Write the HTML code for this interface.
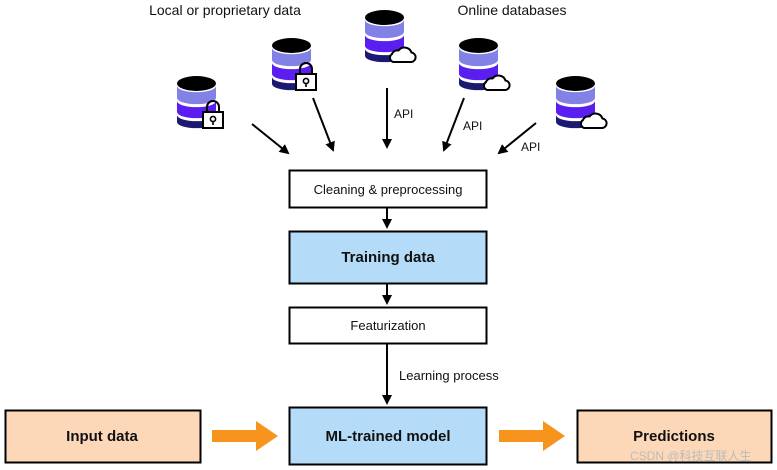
<!DOCTYPE html>
<html><head><meta charset="utf-8"><style>
html,body{margin:0;padding:0;background:#fff;}
svg{display:block;font-family:"Liberation Sans",sans-serif;}
</style></head><body>
<svg width="777" height="470" viewBox="0 0 777 470" xmlns="http://www.w3.org/2000/svg">
<defs>
<g id="cyl">
<path d="M0,10 L0,22 A19,6 0 0 0 39,22 L39,10 A19,6 0 0 1 0,10 Z" fill="#8282e6"/>
<path d="M0,25 L0,36 A19,6 0 0 0 39,36 L39,25 A19,6 0 0 1 0,25 Z" fill="#5a1ff0"/>
<path d="M0,39 L0,46 A19,6 0 0 0 39,46 L39,39 A19,6 0 0 1 0,39 Z" fill="#1c1a70"/>
<ellipse cx="19.5" cy="7.5" rx="19.5" ry="7.5" fill="#000"/>
</g>
<g id="lock">
<path d="M4,0 v-5 a6,6 0 0 1 12,0 v5" fill="none" stroke="#000" stroke-width="2"/>
<rect x="0" y="0" width="20" height="16" fill="#fff" stroke="#000" stroke-width="2"/>
<circle cx="10" cy="7" r="2.6" fill="none" stroke="#000" stroke-width="1.6"/>
<line x1="10" y1="9.5" x2="10" y2="13" stroke="#000" stroke-width="1.6"/>
</g>
<g id="cloud">
<path d="M4,17 A4.5,4.5 0 0 1 3,9 A5.5,5.5 0 0 1 9.5,5.5 A7.5,7.5 0 0 1 22.5,7.5 A4.8,4.8 0 0 1 22.5,17 Z" fill="#fff" stroke="#000" stroke-width="2" stroke-linejoin="round"/>
</g>
<marker id="ah" markerWidth="10" markerHeight="10" refX="8" refY="5" orient="auto" markerUnits="userSpaceOnUse">
<path d="M0,0 L10,5 L0,10 Z" fill="#000"/>
</marker>
</defs>

<text x="225" y="15" font-size="14" text-anchor="middle" fill="#111">Local or proprietary data</text>
<text x="512" y="15" font-size="14" text-anchor="middle" fill="#111">Online databases</text>

<g transform="translate(177,76)"><use href="#cyl"/><g transform="translate(26,36)"><use href="#lock"/></g></g>
<g transform="translate(272,38)"><use href="#cyl"/><g transform="translate(24,36)"><use href="#lock"/></g></g>
<g transform="translate(365,10)"><use href="#cyl"/><g transform="translate(24,35)"><use href="#cloud"/></g></g>
<g transform="translate(459,38)"><use href="#cyl"/><g transform="translate(24,35)"><use href="#cloud"/></g></g>
<g transform="translate(556,76)"><use href="#cyl"/><g transform="translate(24,35)"><use href="#cloud"/></g></g>

<g stroke="#000" stroke-width="2" marker-end="url(#ah)">
<line x1="252" y1="124" x2="288" y2="153"/>
<line x1="313" y1="98" x2="333" y2="150"/>
<line x1="387" y1="88" x2="387" y2="147"/>
<line x1="464" y1="98" x2="444" y2="150"/>
<line x1="536" y1="123" x2="499" y2="153"/>
<line x1="387" y1="208" x2="387" y2="227"/>
<line x1="387" y1="284" x2="387" y2="303"/>
<line x1="387" y1="344" x2="387" y2="403"/>
</g>
<g font-size="12" fill="#111">
<text x="394" y="118">API</text>
<text x="463" y="130">API</text>
<text x="521" y="151">API</text>
<text x="399" y="380" font-size="13">Learning process</text>
</g>

<rect x="289.5" y="170.5" width="197" height="37" fill="#fff" stroke="#000" stroke-width="2"/>
<text x="388" y="194" font-size="13" text-anchor="middle" fill="#111">Cleaning &amp; preprocessing</text>
<rect x="289.5" y="231.5" width="197" height="52" fill="#b4dcf8" stroke="#000" stroke-width="2"/>
<text x="388" y="262" font-size="15" font-weight="bold" text-anchor="middle" fill="#111">Training data</text>
<rect x="289.5" y="307.5" width="197" height="36" fill="#fff" stroke="#000" stroke-width="2"/>
<text x="388" y="330" font-size="13" text-anchor="middle" fill="#111">Featurization</text>
<rect x="289.5" y="407.5" width="197" height="57" fill="#b4dcf8" stroke="#000" stroke-width="2"/>
<text x="388" y="441" font-size="15" font-weight="bold" text-anchor="middle" fill="#111">ML-trained model</text>
<rect x="5.5" y="410.5" width="195" height="52" fill="#fcd8b8" stroke="#000" stroke-width="2"/>
<text x="102" y="441" font-size="15" font-weight="bold" text-anchor="middle" fill="#111">Input data</text>
<rect x="577.5" y="410.5" width="194" height="52" fill="#fcd8b8" stroke="#000" stroke-width="2"/>
<text x="674" y="441" font-size="15" font-weight="bold" text-anchor="middle" fill="#111">Predictions</text>

<path d="M212,430 H256 V421 L278,436 L256,451 V442 H212 Z" fill="#f7941d"/>
<path d="M499,430 H543 V421 L565,436 L543,451 V442 H499 Z" fill="#f7941d"/>

<text x="630" y="460" font-size="12" fill="#bbb" font-family="Liberation Sans, Noto Sans CJK SC, sans-serif">CSDN @科技互联人生</text>
</svg>
</body></html>
